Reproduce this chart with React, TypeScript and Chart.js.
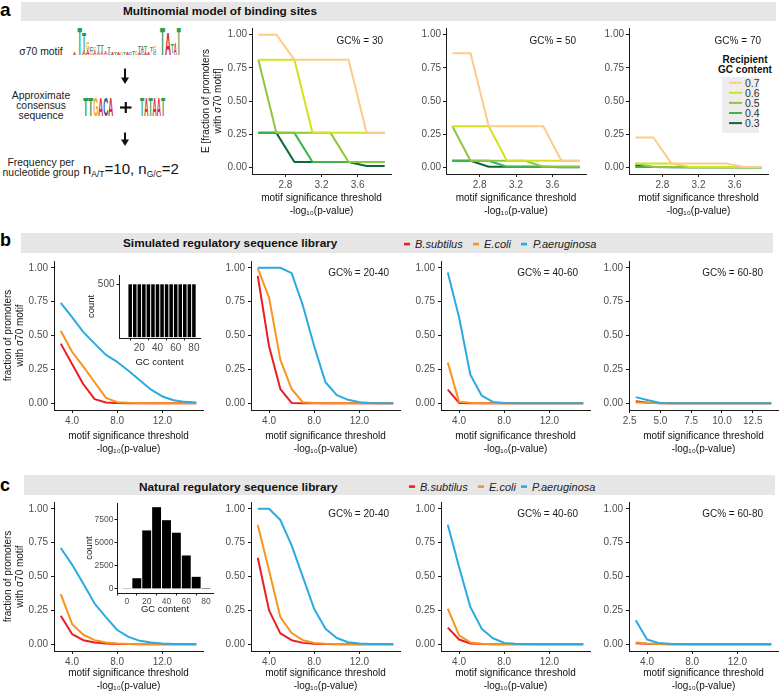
import React, { useEffect, useRef } from "react";
import { Chart, registerables } from "chart.js";

Chart.register(...registerables);

const FONT = "'Liberation Sans', Arial, Helvetica, sans-serif";

// ---------------- Panel a : multinomial model ----------------
const thresholdsA = [2.5, 2.7, 2.9, 3.1, 3.3, 3.5, 3.7, 3.9];
const thresholdTicksA = [2.8, 3.2, 3.6];
const recipientLabels = ["0.7", "0.6", "0.5", "0.4", "0.3"];
const recipientColors = ["#FDCB8A", "#D5E11D", "#8DC63F", "#3CB54A", "#0B6A37"];

const gc30r07 = [1.0, 1.0, 0.81, 0.81, 0.81, 0.81, 0.26, 0.26];
const gc30r06 = [0.81, 0.81, 0.81, 0.26, 0.26, 0.26, 0.26, 0.26];
const gc30r05 = [0.81, 0.26, 0.26, 0.26, 0.26, 0.04, 0.04, 0.04];
const gc30r04 = [0.26, 0.26, 0.26, 0.04, 0.04, 0.04, 0.04, 0.04];
const gc30r03 = [0.26, 0.26, 0.04, 0.04, 0.04, 0.04, 0.01, 0.01];

const gc50r07 = [0.86, 0.86, 0.31, 0.31, 0.31, 0.31, 0.05, 0.05];
const gc50r06 = [0.31, 0.31, 0.31, 0.05, 0.05, 0.05, 0.05, 0.05];
const gc50r05 = [0.31, 0.05, 0.05, 0.05, 0.05, 0.005, 0.005, 0.005];
const gc50r04 = [0.05, 0.05, 0.05, 0.005, 0.005, 0.005, 0.005, 0.005];
const gc50r03 = [0.05, 0.05, 0.005, 0.005, 0.005, 0.005, 0.001, 0.001];

const gc70r07 = [0.225, 0.225, 0.03, 0.03, 0.03, 0.03, 0.003, 0.003];
const gc70r06 = [0.03, 0.03, 0.03, 0.003, 0.003, 0.003, 0.003, 0.003];
const gc70r05 = [0.03, 0.003, 0.003, 0.003, 0.003, 0.001, 0.001, 0.001];
const gc70r04 = [0.003, 0.003, 0.003, 0.001, 0.001, 0.001, 0.001, 0.001];
const gc70r03 = [0.015, 0.003, 0.001, 0.001, 0.001, 0.001, 0.0, 0.0];

// ---------------- Panels b / c ----------------
const thresholdsBC = [3, 4, 5, 6, 7, 8, 9, 10, 11, 12, 13, 14, 15];
const thresholdsB4 = [3, 4, 5, 6, 7, 8, 9, 10, 11, 12, 13, 14];
const thresholdTicksBC = [4, 8, 12];
const thresholdTicksB4 = [2.5, 5, 7.5, 10, 12.5];
const organisms = ["P.aeruginosa", "E.coli", "B.subtilus"];
const organismColors = ["#29ABE2", "#F7941D", "#ED1C24"];

// simulated library
const simAllPaer = [0.74, 0.635, 0.525, 0.44, 0.357, 0.305, 0.24, 0.17, 0.1, 0.05, 0.022, 0.01, 0.005];
const simAllEcoli = [0.535, 0.38, 0.27, 0.155, 0.04, 0.008, 0.003, 0.001, 0, 0, 0, 0, 0];
const simAllBsub = [0.44, 0.29, 0.14, 0.03, 0.005, 0.001, 0, 0, 0, 0, 0, 0, 0];

const sim2040Paer = [1.0, 1.0, 1.0, 0.96, 0.72, 0.42, 0.155, 0.06, 0.025, 0.008, 0.002, 0, 0];
const sim2040Ecoli = [0.995, 0.78, 0.32, 0.105, 0.007, 0.001, 0, 0, 0, 0, 0, 0, 0];
const sim2040Bsub = [0.94, 0.42, 0.105, 0.002, 0, 0, 0, 0, 0, 0, 0, 0, 0];

const sim4060Paer = [0.965, 0.635, 0.21, 0.057, 0.01, 0.002, 0, 0, 0, 0, 0, 0, 0];
const sim4060Ecoli = [0.3, 0.01, 0.003, 0, 0, 0, 0, 0, 0, 0, 0, 0, 0];
const sim4060Bsub = [0.1, 0.002, 0, 0, 0, 0, 0, 0, 0, 0, 0, 0, 0];

const sim6080Paer = [0.045, 0.022, 0.001, 0, 0, 0, 0, 0, 0, 0, 0, 0];
const sim6080Ecoli = [0.006, 0.004, 0.001, 0, 0, 0, 0, 0, 0, 0, 0, 0];
const sim6080Bsub = [0.015, 0.003, 0, 0, 0, 0, 0, 0, 0, 0, 0, 0];

// natural library
const natAllPaer = [0.71, 0.588, 0.446, 0.3, 0.2, 0.105, 0.054, 0.025, 0.012, 0.005, 0.002, 0.001, 0];
const natAllEcoli = [0.37, 0.15, 0.07, 0.03, 0.012, 0.005, 0.002, 0.001, 0, 0, 0, 0, 0];
const natAllBsub = [0.21, 0.075, 0.03, 0.012, 0.005, 0.002, 0.001, 0, 0, 0, 0, 0, 0];

const nat2040Paer = [1.0, 1.0, 0.917, 0.73, 0.495, 0.26, 0.115, 0.046, 0.015, 0.005, 0.002, 0.001, 0];
const nat2040Ecoli = [0.88, 0.545, 0.2, 0.083, 0.03, 0.01, 0.003, 0.001, 0, 0, 0, 0, 0];
const nat2040Bsub = [0.638, 0.25, 0.08, 0.03, 0.01, 0.003, 0.001, 0, 0, 0, 0, 0, 0];

const nat4060Paer = [0.882, 0.57, 0.275, 0.115, 0.044, 0.01, 0.003, 0.001, 0, 0, 0, 0, 0];
const nat4060Ecoli = [0.263, 0.066, 0.013, 0.003, 0, 0, 0, 0, 0, 0, 0, 0, 0];
const nat4060Bsub = [0.123, 0.035, 0.005, 0.001, 0, 0, 0, 0, 0, 0, 0, 0, 0];

const nat6080Paer = [0.177, 0.035, 0.01, 0.003, 0.001, 0, 0, 0, 0, 0, 0, 0, 0];
const nat6080Ecoli = [0.012, 0.006, 0.002, 0, 0, 0, 0, 0, 0, 0, 0, 0, 0];
const nat6080Bsub = [0.008, 0.003, 0.001, 0, 0, 0, 0, 0, 0, 0, 0, 0, 0];

// inset histograms
const simGcBins = [10, 15, 20, 25, 30, 35, 40, 45, 50, 55, 60, 65, 70, 75, 80];
const simGcCounts = [500, 500, 500, 500, 500, 500, 500, 500, 500, 500, 500, 500, 500, 500, 500];
const simGcTicks = [20, 40, 60, 80];
const simCountTicks = [500];
const natGcBins = [0, 10, 20, 30, 40, 50, 60, 70, 80];
const natGcCounts = [30, 1150, 6300, 8800, 7400, 6050, 3600, 1300, 100];
const natGcTicks = [0, 20, 40, 60, 80];
const natCountTicks = [0, 2500, 5000, 7500];

const fractionTicks = [0, 0.25, 0.5, 0.75, 1.0];
const X_TITLE = ["motif significance threshold", "-log\u2081\u2080(p-value)"];
const Y_TITLE_A = ["E [fraction of promoters", "with \u03C370 motif]"];
const Y_TITLE_BC = ["fraction of promoters", "with \u03C370 motif"];

const AXIS = "#1a1a1a";
const TICK = "#4D4D4D";

// ---------------- chart helpers ----------------
function ChartBox(props: { left: number; top: number; width: number; height: number; make: () => any }) {
  const ref = useRef<HTMLCanvasElement | null>(null);
  useEffect(() => {
    const chart = new Chart(ref.current as HTMLCanvasElement, props.make());
    return () => chart.destroy();
  }, []);
  return (
    <canvas
      ref={ref}
      width={props.width}
      height={props.height}
      style={{ position: "absolute", left: props.left, top: props.top, width: props.width, height: props.height }}
    />
  );
}

function notePlugin(text: string, dx: number, dy: number) {
  return {
    id: "gcNote",
    afterDatasetsDraw(chart: any) {
      if (!text) return;
      const { ctx, chartArea } = chart;
      ctx.save();
      ctx.font = `10px ${FONT}`;
      ctx.fillStyle = "#1a1a1a";
      ctx.textAlign = "right";
      ctx.textBaseline = "middle";
      ctx.fillText(text, chartArea.right - dx, chartArea.top + dy);
      ctx.restore();
    },
  };
}

type Series = { label: string; ys: number[]; color: string };

interface LineSpec {
  xs: number[];
  series: Series[];
  xMin: number;
  xMax: number;
  xTicks: number[];
  yW: number;
  xH: number;
  padTop: number;
  padRight: number;
  yTickPad: number;
  yTitle?: string[];
  yTitlePad?: number;
  note: string;
  noteDx: number;
  noteDy: number;
}

function lineConfig(s: LineSpec) {
  return {
    type: "line",
    data: {
      datasets: s.series.map((se) => ({
        label: se.label,
        data: s.xs.map((x, i) => ({ x, y: se.ys[i] })),
        borderColor: se.color,
        backgroundColor: se.color,
        borderWidth: 2,
        pointRadius: 0,
        tension: 0,
        fill: false,
        borderJoinStyle: "round",
      })),
    },
    options: {
      responsive: false,
      animation: false,
      devicePixelRatio: 1,
      layout: { padding: { top: s.padTop, right: s.padRight, left: 0, bottom: 0 } },
      plugins: { legend: { display: false }, tooltip: { enabled: false } },
      scales: {
        x: {
          type: "linear",
          min: s.xMin,
          max: s.xMax,
          afterBuildTicks: (ax: any) => {
            ax.ticks = s.xTicks.map((v) => ({ value: v }));
          },
          afterFit: (ax: any) => {
            ax.height = s.xH;
          },
          ticks: {
            callback: (v: any) => Number(v).toFixed(1),
            autoSkip: false,
            maxRotation: 0,
            padding: 2,
            color: TICK,
            font: { family: FONT, size: 10 },
          },
          grid: { display: true, drawOnChartArea: false, drawTicks: true, tickLength: 3, color: AXIS },
          border: { display: true, color: AXIS, width: 1 },
          title: {
            display: true,
            text: X_TITLE,
            color: "#111",
            font: { family: FONT, size: 10, lineHeight: 1.25 },
            padding: 0,
          },
        },
        y: {
          type: "linear",
          min: -0.05,
          max: 1.05,
          afterBuildTicks: (ax: any) => {
            ax.ticks = fractionTicks.map((v) => ({ value: v }));
          },
          afterFit: (ax: any) => {
            ax.width = s.yW;
          },
          ticks: {
            callback: (v: any) => Number(v).toFixed(2),
            autoSkip: false,
            padding: s.yTickPad,
            color: TICK,
            font: { family: FONT, size: 10 },
          },
          grid: { display: true, drawOnChartArea: false, drawTicks: true, tickLength: 3, color: AXIS },
          border: { display: true, color: AXIS, width: 1 },
          title: {
            display: !!s.yTitle,
            text: s.yTitle || "",
            color: "#111",
            font: { family: FONT, size: 10, lineHeight: 1.2 },
            padding: { top: s.yTitlePad || 0, bottom: 0 },
          },
        },
      },
    },
    plugins: [notePlugin(s.note, s.noteDx, s.noteDy)],
  };
}

interface BarSpec {
  xs: number[];
  ys: number[];
  xMin: number;
  xMax: number;
  xTicks: number[];
  yMin: number;
  yMax: number;
  yTicks: number[];
  yW: number;
  xH: number;
  padTop: number;
  padRight: number;
  tickSize: number;
  tickPad: number;
  titleSize: number;
  yTitlePad: number;
  catPct: number;
}

function barConfig(s: BarSpec) {
  return {
    type: "bar",
    data: {
      datasets: [
        {
          data: s.xs.map((x, i) => ({ x, y: s.ys[i] })),
          backgroundColor: "#000000",
          borderWidth: 0,
          barPercentage: 1,
          categoryPercentage: s.catPct,
        },
      ],
    },
    options: {
      responsive: false,
      animation: false,
      devicePixelRatio: 1,
      layout: { padding: { top: s.padTop, right: s.padRight, left: 0, bottom: 0 } },
      plugins: { legend: { display: false }, tooltip: { enabled: false } },
      scales: {
        x: {
          type: "linear",
          offset: false,
          min: s.xMin,
          max: s.xMax,
          afterBuildTicks: (ax: any) => {
            ax.ticks = s.xTicks.map((v) => ({ value: v }));
          },
          afterFit: (ax: any) => {
            ax.height = s.xH;
          },
          ticks: {
            callback: (v: any) => String(v),
            autoSkip: false,
            maxRotation: 0,
            padding: s.tickPad,
            color: TICK,
            font: { family: FONT, size: s.tickSize },
          },
          grid: { display: true, drawOnChartArea: false, drawTicks: true, tickLength: 2.5, color: AXIS },
          border: { display: true, color: AXIS, width: 1 },
          title: {
            display: true,
            text: "GC content",
            color: "#111",
            font: { family: FONT, size: s.titleSize, lineHeight: 1.2 },
            padding: 0,
          },
        },
        y: {
          type: "linear",
          min: s.yMin,
          max: s.yMax,
          afterBuildTicks: (ax: any) => {
            ax.ticks = s.yTicks.map((v) => ({ value: v }));
          },
          afterFit: (ax: any) => {
            ax.width = s.yW;
          },
          ticks: {
            callback: (v: any) => String(v),
            autoSkip: false,
            padding: s.tickPad,
            color: TICK,
            font: { family: FONT, size: s.tickSize },
          },
          grid: { display: true, drawOnChartArea: false, drawTicks: true, tickLength: 2.5, color: AXIS },
          border: { display: true, color: AXIS, width: 1 },
          title: {
            display: true,
            text: "count",
            color: "#111",
            font: { family: FONT, size: s.titleSize, lineHeight: 1.2 },
            padding: { top: s.yTitlePad, bottom: 0 },
          },
        },
      },
    },
  };
}

type Row = { plotTop: number; plotBottom: number; xH: number; padTop: number };
const ROW_A: Row = { plotTop: 28, plotBottom: 174, xH: 43, padTop: 8 };
const ROW_B: Row = { plotTop: 260, plotBottom: 410, xH: 45, padTop: 8 };
const ROW_C: Row = { plotTop: 501, plotBottom: 651, xH: 41, padTop: 8 };

function LinePanel(props: {
  row: Row;
  plotLeft: number;
  plotRight: number;
  yW: number;
  padRight: number;
  yTickPad: number;
  xs: number[];
  series: Series[];
  xMin: number;
  xMax: number;
  xTicks: number[];
  yTitle?: string[];
  yTitlePad?: number;
  note: string;
  noteDx: number;
  noteDy: number;
}) {
  const p = props;
  const left = p.plotLeft - p.yW;
  const top = p.row.plotTop - p.row.padTop;
  const width = p.yW + (p.plotRight - p.plotLeft) + p.padRight;
  const height = p.row.padTop + (p.row.plotBottom - p.row.plotTop) + p.row.xH;
  return (
    <ChartBox
      left={left}
      top={top}
      width={width}
      height={height}
      make={() =>
        lineConfig({
          xs: p.xs,
          series: p.series,
          xMin: p.xMin,
          xMax: p.xMax,
          xTicks: p.xTicks,
          yW: p.yW,
          xH: p.row.xH,
          padTop: p.row.padTop,
          padRight: p.padRight,
          yTickPad: p.yTickPad,
          yTitle: p.yTitle,
          yTitlePad: p.yTitlePad,
          note: p.note,
          noteDx: p.noteDx,
          noteDy: p.noteDy,
        })
      }
    />
  );
}

function recipientSeries(a: number[][]): Series[] {
  return recipientLabels.map((l, i) => ({ label: l, ys: a[i], color: recipientColors[i] }));
}
function organismSeries(a: number[][]): Series[] {
  return organisms.map((l, i) => ({ label: l, ys: a[i], color: organismColors[i] }));
}

// ---------------- static figure parts (SVG text) ----------------
const LOGO = { A: "#D62839", C: "#255C99", G: "#F5A623", T: "#2E9B50" };

function Letter(p: { ch: "A" | "C" | "G" | "T"; x: number; top: number; w: number; h: number }) {
  const fs = p.h / 0.716;
  return (
    <text
      x={p.x}
      y={p.top + p.h}
      fontSize={fs}
      fontWeight="bold"
      fill={LOGO[p.ch]}
      textLength={p.w}
      lengthAdjust="spacingAndGlyphs"
      fontFamily={FONT}
    >
      {p.ch}
    </text>
  );
}

function Arrow(p: { x: number; y1: number; y2: number }) {
  return (
    <g>
      <line x1={p.x} y1={p.y1} x2={p.x} y2={p.y2 - 5} stroke="#111" strokeWidth={2} />
      <polygon points={`${p.x - 4},${p.y2 - 6.5} ${p.x + 4},${p.y2 - 6.5} ${p.x},${p.y2}`} fill="#111" />
    </g>
  );
}

function StaticLayer() {
  const legendRows = [244, 486.5];
  const legendB = [
    [404, 415, 473, 484, 521, 533],
    [409, 420, 478, 489, 521, 532],
  ];
  return (
    <svg width={779} height={692} style={{ position: "absolute", left: 0, top: 0 }} fontFamily={FONT}>
      {/* panel letters */}
      <text x={0} y={15.5} fontSize={19} fontWeight="bold" fill="#000">a</text>
      <text x={0} y={245.5} fontSize={18} fontWeight="bold" fill="#000">b</text>
      <text x={0} y={490.5} fontSize={18} fontWeight="bold" fill="#000">c</text>

      {/* strip headers */}
      <rect x={21} y={2} width={755} height={19} fill="#E6E6E6" />
      <rect x={21} y={233} width={752} height={20} fill="#E6E6E6" />
      <rect x={24} y={475} width={751} height={20} fill="#E6E6E6" />
      <text x={123} y={15.3} fontSize={11.8} fontWeight="bold" fill="#111">Multinomial model of binding sites</text>
      <text x={123} y={247.3} fontSize={11.8} fontWeight="bold" fill="#111">Simulated regulatory sequence library</text>
      <text x={139} y={491} fontSize={11.8} fontWeight="bold" fill="#111">Natural regulatory sequence library</text>

      {/* organism legends */}
      {legendB.map((r, k) => {
        const y = legendRows[k];
        return (
          <g key={k}>
            <rect x={r[0]} y={y - 1.2} width={6} height={2.6} fill={organismColors[2]} />
            <text x={r[1]} y={y} dominantBaseline="central" fontSize={11} fontStyle="italic" fill="#222">B.subtilus</text>
            <rect x={r[2]} y={y - 1.2} width={6} height={2.6} fill={organismColors[1]} />
            <text x={r[3]} y={y} dominantBaseline="central" fontSize={11} fontStyle="italic" fill="#222">E.coli</text>
            <rect x={r[4]} y={y - 1.2} width={6} height={2.6} fill={organismColors[0]} />
            <text x={r[5]} y={y} dominantBaseline="central" fontSize={11} fontStyle="italic" fill="#222">P.aeruginosa</text>
          </g>
        );
      })}

      {/* recipient GC legend (panel a, right) */}
      <text x={745} y={59.3} textAnchor="middle" dominantBaseline="central" fontSize={10} fontWeight="bold" fill="#111">Recipient</text>
      <text x={745} y={69.5} textAnchor="middle" dominantBaseline="central" fontSize={10} fontWeight="bold" fill="#111">GC content</text>
      <rect x={722} y={77} width={37} height={56} fill="#EDEDED" />
      {recipientLabels.map((l, i) => {
        const y = 82.7 + i * 10.1;
        return (
          <g key={l}>
            <line x1={729} y1={y} x2={742} y2={y} stroke={recipientColors[i]} strokeWidth={2} />
            <text x={745} y={y} dominantBaseline="central" fontSize={10.5} fill="#333">{l}</text>
          </g>
        );
      })}

      {/* left diagram of panel a */}
      <text x={41} y={51} textAnchor="middle" dominantBaseline="central" fontSize={10.4} fill="#222">{"\u03C370 motif"}</text>
      <text x={41} y={95} textAnchor="middle" dominantBaseline="central" fontSize={10.4} fill="#222">Approximate</text>
      <text x={41} y={105.7} textAnchor="middle" dominantBaseline="central" fontSize={10.4} fill="#222">consensus</text>
      <text x={41} y={115.7} textAnchor="middle" dominantBaseline="central" fontSize={10.4} fill="#222">sequence</text>
      <text x={41} y={162.3} textAnchor="middle" dominantBaseline="central" fontSize={10.4} fill="#222">Frequency per</text>
      <text x={41} y={172.5} textAnchor="middle" dominantBaseline="central" fontSize={10.4} fill="#222">nucleotide group</text>

      {/* sigma70 motif logo */}
      <Letter ch="A" x={73} top={52} w={3} h={3} />
      <Letter ch="T" x={77.5} top={27} w={4.5} h={28} />
      <Letter ch="T" x={82} top={32} w={4} h={19} />
      <Letter ch="A" x={82} top={51} w={4} h={4} />
      <Letter ch="G" x={86} top={42} w={3.5} h={8} />
      <Letter ch="A" x={86} top={50} w={3.5} h={5} />
      <Letter ch="C" x={89.5} top={47} w={3.5} h={4} />
      <Letter ch="G" x={89.5} top={51} w={3.5} h={4} />
      <Letter ch="G" x={93} top={47} w={3.5} h={4} />
      <Letter ch="A" x={93} top={51} w={3.5} h={4} />
      <Letter ch="T" x={97} top={44} w={3} h={7} />
      <Letter ch="A" x={97} top={51} w={3} h={4} />
      <Letter ch="T" x={100.5} top={44} w={3} h={7} />
      <Letter ch="A" x={100.5} top={51} w={3} h={4} />
      <Letter ch="A" x={104} top={51} w={3} h={4} />
      <Letter ch="T" x={107.5} top={47} w={3} h={5} />
      <Letter ch="C" x={107.5} top={52} w={3} h={3} />
      <Letter ch="A" x={111} top={53} w={3} h={2} />
      <Letter ch="T" x={114} top={53} w={3} h={2} />
      <Letter ch="A" x={117} top={53} w={3} h={2} />
      <Letter ch="G" x={120} top={53} w={3} h={2} />
      <Letter ch="T" x={123} top={53} w={3} h={2} />
      <Letter ch="A" x={126} top={52.5} w={3} h={2.5} />
      <Letter ch="C" x={129} top={52} w={3} h={3} />
      <Letter ch="T" x={132} top={51} w={3} h={4} />
      <Letter ch="G" x={135} top={51} w={3} h={4} />
      <Letter ch="T" x={138} top={46} w={3} h={6} />
      <Letter ch="A" x={138} top={52} w={3} h={3} />
      <Letter ch="A" x={141} top={46} w={3} h={6} />
      <Letter ch="C" x={141} top={52} w={3} h={3} />
      <Letter ch="T" x={144} top={46} w={3} h={6} />
      <Letter ch="A" x={144} top={52} w={3} h={3} />
      <Letter ch="A" x={147} top={52} w={3} h={3} />
      <Letter ch="T" x={150} top={47} w={3} h={5} />
      <Letter ch="G" x={153} top={46} w={3.5} h={6} />
      <Letter ch="C" x={153} top={52} w={3.5} h={3} />
      <Letter ch="T" x={160} top={27} w={5} h={28} />
      <Letter ch="A" x={165} top={33} w={6} h={22} />
      <Letter ch="T" x={171} top={44} w={2.8} h={9} />
      <Letter ch="A" x={173.8} top={43} w={3} h={12} />
      <Letter ch="T" x={176.8} top={27} w={4} h={28} />

      <Arrow x={125} y1={68.5} y2={84} />

      {/* consensus */}
      <Letter ch="T" x={83.3} top={97} w={5} h={18.5} />
      <Letter ch="T" x={88.3} top={97} w={5} h={18.5} />
      <Letter ch="G" x={93.3} top={97} w={5} h={18.5} />
      <Letter ch="A" x={98.3} top={97} w={5} h={18.5} />
      <Letter ch="C" x={103.3} top={97} w={5} h={18.5} />
      <Letter ch="A" x={108.3} top={97} w={5} h={18.5} />
      <line x1={120} y1={107.5} x2={131.5} y2={107.5} stroke="#111" strokeWidth={2.2} />
      <line x1={125.8} y1={102} x2={125.8} y2={113} stroke="#111" strokeWidth={2.2} />
      <Letter ch="T" x={140} top={97} w={4.2} h={18.5} />
      <Letter ch="A" x={144.2} top={97} w={4.2} h={18.5} />
      <Letter ch="T" x={148.4} top={97} w={4.2} h={18.5} />
      <Letter ch="A" x={152.6} top={97} w={4.2} h={18.5} />
      <Letter ch="A" x={156.8} top={97} w={4.2} h={18.5} />
      <Letter ch="T" x={161} top={97} w={4.2} h={18.5} />

      <Arrow x={125} y1={132.5} y2={146} />

      <text x={83} y={174} fontSize={15} fill="#111">
        n<tspan fontSize={8.5} dy={2.5}>A/T</tspan>
        <tspan dy={-2.5}>=10, n</tspan>
        <tspan fontSize={8.5} dy={2.5}>G/C</tspan>
        <tspan dy={-2.5}>=2</tspan>
      </text>
    </svg>
  );
}

export default function App() {
  useEffect(() => {
    document.body.style.margin = "0";
  }, []);

  const colsBC = [
    { plotLeft: 54, yW: 54, padRight: 5 },
    { plotLeft: 251, yW: 40, padRight: 5 },
    { plotLeft: 441, yW: 40, padRight: 5 },
    { plotLeft: 629, yW: 40, padRight: 1 },
  ];
  const W = 149;

  return (
    <div
      style={{
        position: "absolute",
        left: 0,
        top: 0,
        width: 779,
        height: 692,
        background: "#ffffff",
        overflow: "hidden",
        fontFamily: FONT,
      }}
    >
      <StaticLayer />

      {/* ---- panel a ---- */}
      <LinePanel
        row={ROW_A}
        plotLeft={252}
        plotRight={391}
        yW={57}
        padRight={6}
        yTickPad={2}
        xs={thresholdsA}
        series={recipientSeries([gc30r07, gc30r06, gc30r05, gc30r04, gc30r03])}
        xMin={2.43}
        xMax={3.97}
        xTicks={thresholdTicksA}
        yTitle={Y_TITLE_A}
        yTitlePad={5}
        note="GC% = 30"
        noteDx={8}
        noteDy={13}
      />
      <LinePanel
        row={ROW_A}
        plotLeft={446}
        plotRight={586}
        yW={40}
        padRight={6}
        yTickPad={2}
        xs={thresholdsA}
        series={recipientSeries([gc50r07, gc50r06, gc50r05, gc50r04, gc50r03])}
        xMin={2.43}
        xMax={3.97}
        xTicks={thresholdTicksA}
        note="GC% = 50"
        noteDx={10}
        noteDy={13}
      />
      <LinePanel
        row={ROW_A}
        plotLeft={629}
        plotRight={768}
        yW={40}
        padRight={6}
        yTickPad={2}
        xs={thresholdsA}
        series={recipientSeries([gc70r07, gc70r06, gc70r05, gc70r04, gc70r03])}
        xMin={2.43}
        xMax={3.97}
        xTicks={thresholdTicksA}
        note="GC% = 70"
        noteDx={7}
        noteDy={13}
      />

      {/* ---- panel b ---- */}
      <LinePanel
        row={ROW_B}
        {...colsBC[0]}
        plotRight={colsBC[0].plotLeft + W}
        yTickPad={3}
        xs={thresholdsBC}
        series={organismSeries([simAllPaer, simAllEcoli, simAllBsub])}
        xMin={2.4}
        xMax={15.6}
        xTicks={thresholdTicksBC}
        yTitle={Y_TITLE_BC}
        yTitlePad={2}
        note=""
        noteDx={0}
        noteDy={0}
      />
      <LinePanel
        row={ROW_B}
        {...colsBC[1]}
        plotRight={colsBC[1].plotLeft + W}
        yTickPad={3}
        xs={thresholdsBC}
        series={organismSeries([sim2040Paer, sim2040Ecoli, sim2040Bsub])}
        xMin={2.4}
        xMax={15.6}
        xTicks={thresholdTicksBC}
        note="GC% = 20-40"
        noteDx={11}
        noteDy={12}
      />
      <LinePanel
        row={ROW_B}
        {...colsBC[2]}
        plotRight={colsBC[2].plotLeft + W}
        yTickPad={3}
        xs={thresholdsBC}
        series={organismSeries([sim4060Paer, sim4060Ecoli, sim4060Bsub])}
        xMin={2.4}
        xMax={15.6}
        xTicks={thresholdTicksBC}
        note="GC% = 40-60"
        noteDx={12}
        noteDy={12}
      />
      <LinePanel
        row={ROW_B}
        {...colsBC[3]}
        plotRight={colsBC[3].plotLeft + W}
        yTickPad={3}
        xs={thresholdsB4}
        series={organismSeries([sim6080Paer, sim6080Ecoli, sim6080Bsub])}
        xMin={2.45}
        xMax={14.55}
        xTicks={thresholdTicksB4}
        note="GC% = 60-80"
        noteDx={15}
        noteDy={12}
      />

      {/* ---- panel c ---- */}
      <LinePanel
        row={ROW_C}
        {...colsBC[0]}
        plotRight={colsBC[0].plotLeft + W}
        yTickPad={3}
        xs={thresholdsBC}
        series={organismSeries([natAllPaer, natAllEcoli, natAllBsub])}
        xMin={2.4}
        xMax={15.6}
        xTicks={thresholdTicksBC}
        yTitle={Y_TITLE_BC}
        yTitlePad={2}
        note=""
        noteDx={0}
        noteDy={0}
      />
      <LinePanel
        row={ROW_C}
        {...colsBC[1]}
        plotRight={colsBC[1].plotLeft + W}
        yTickPad={3}
        xs={thresholdsBC}
        series={organismSeries([nat2040Paer, nat2040Ecoli, nat2040Bsub])}
        xMin={2.4}
        xMax={15.6}
        xTicks={thresholdTicksBC}
        note="GC% = 20-40"
        noteDx={11}
        noteDy={12}
      />
      <LinePanel
        row={ROW_C}
        {...colsBC[2]}
        plotRight={colsBC[2].plotLeft + W}
        yTickPad={3}
        xs={thresholdsBC}
        series={organismSeries([nat4060Paer, nat4060Ecoli, nat4060Bsub])}
        xMin={2.4}
        xMax={15.6}
        xTicks={thresholdTicksBC}
        note="GC% = 40-60"
        noteDx={12}
        noteDy={12}
      />
      <LinePanel
        row={ROW_C}
        {...colsBC[3]}
        plotRight={colsBC[3].plotLeft + W}
        yTickPad={3}
        xs={thresholdsBC}
        series={organismSeries([nat6080Paer, nat6080Ecoli, nat6080Bsub])}
        xMin={2.4}
        xMax={15.6}
        xTicks={thresholdTicksBC}
        note="GC% = 60-80"
        noteDx={15}
        noteDy={12}
      />

      {/* ---- insets ---- */}
      <ChartBox
        left={86}
        top={267}
        width={33 + 81 + 3}
        height={5 + 66 + 30}
        make={() =>
          barConfig({
            xs: simGcBins,
            ys: simGcCounts,
            xMin: -2.3,
            xMax: 86.7,
            xTicks: simGcTicks,
            yMin: -8,
            yMax: 588,
            yTicks: simCountTicks,
            yW: 33,
            xH: 30,
            padTop: 5,
            padRight: 3,
            tickSize: 10,
            tickPad: 2,
            titleSize: 9.5,
            yTitlePad: 0,
            catPct: 0.78,
          })
        }
      />
      <ChartBox
        left={84}
        top={497}
        width={33 + 96 + 3}
        height={6 + 90 + 22}
        make={() =>
          barConfig({
            xs: natGcBins,
            ys: natGcCounts,
            xMin: -10,
            xMax: 87,
            xTicks: natGcTicks,
            yMin: -440,
            yMax: 9240,
            yTicks: natCountTicks,
            yW: 33,
            xH: 22,
            padTop: 6,
            padRight: 3,
            tickSize: 8.5,
            tickPad: 1,
            titleSize: 9.5,
            yTitlePad: 0,
            catPct: 0.9,
          })
        }
      />
    </div>
  );
}
